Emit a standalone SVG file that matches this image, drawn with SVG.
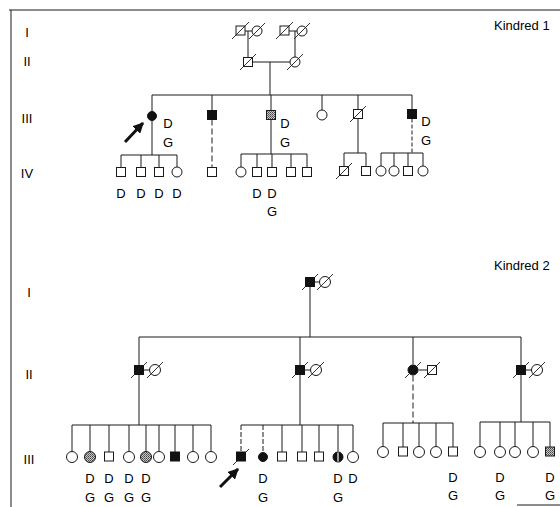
<svg xmlns="http://www.w3.org/2000/svg" width="560" height="507" viewBox="0 0 560 507">
<style>
.ln{stroke:#1a1a1a;stroke-width:1;fill:none}
.o{fill:#fff;stroke:#1a1a1a;stroke-width:1}
.f{fill:#111;stroke:#111;stroke-width:1}
.s{fill:url(#stip);stroke:#1a1a1a;stroke-width:1}
.d{stroke:#1a1a1a;stroke-width:0.9}
.t{font-family:"Liberation Sans",Arial,sans-serif;font-size:13px;fill:#000}
.g{font-family:"Liberation Sans",Arial,sans-serif;font-size:13px;fill:#000;text-anchor:middle}
</style>
<defs>
<pattern id="stip" width="2" height="2" patternUnits="userSpaceOnUse">
<rect width="2" height="2" fill="#c8c8c8"/>
<rect width="1" height="1" fill="#444"/>
<rect x="1" y="1" width="1" height="1" fill="#666"/>
</pattern>
<marker id="ah" viewBox="0 0 10 10" refX="9" refY="5" markerWidth="3.6" markerHeight="3.6" orient="auto" markerUnits="strokeWidth">
<path d="M0,0 L10,5 L0,10 Z" fill="#111"/>
</marker>
</defs>

<g id="frame">
<line class="ln" x1="9" y1="10" x2="560" y2="10" stroke-width="1.3"/>
<line class="ln" x1="11" y1="10" x2="11" y2="507" stroke-width="1.3"/>
<line class="ln" x1="517" y1="505" x2="560" y2="505"/>
</g>

<g id="labels">
<text class="g" x="27" y="37">I</text>
<text class="g" x="27" y="66">II</text>
<text class="g" x="27" y="123">III</text>
<text class="g" x="27" y="178">IV</text>
<text class="t" x="494" y="30">Kindred 1</text>
<text class="g" x="29" y="297">I</text>
<text class="g" x="29" y="379">II</text>
<text class="g" x="29" y="464">III</text>
<text class="t" x="494" y="270">Kindred 2</text>
</g>

<g id="connectors">
<!-- Kindred 1 -->
<line class="ln" x1="245" y1="31" x2="252" y2="31"/>
<line class="ln" x1="248" y1="31" x2="248" y2="57.5"/>
<line class="ln" x1="289" y1="31" x2="297" y2="31"/>
<line class="ln" x1="295" y1="31" x2="295" y2="57"/>
<line class="ln" x1="252.5" y1="62" x2="290" y2="62"/>
<line class="ln" x1="270" y1="62" x2="270" y2="95"/>
<line class="ln" x1="152" y1="95" x2="412" y2="95"/>
<line class="ln" x1="152" y1="95" x2="152" y2="111.5"/>
<line class="ln" x1="212" y1="95" x2="212" y2="110.5"/>
<line class="ln" x1="271" y1="95" x2="271" y2="110.5"/>
<line class="ln" x1="322" y1="95" x2="322" y2="110"/>
<line class="ln" x1="358" y1="95" x2="358" y2="109.5"/>
<line class="ln" x1="412" y1="95" x2="412" y2="109.5"/>
<line class="ln" x1="152" y1="120.5" x2="152" y2="155"/>
<line class="ln" x1="121" y1="155" x2="177" y2="155"/>
<line class="ln" x1="121" y1="155" x2="121" y2="167.5"/>
<line class="ln" x1="141" y1="155" x2="141" y2="167.5"/>
<line class="ln" x1="159" y1="155" x2="159" y2="167.5"/>
<line class="ln" x1="177" y1="155" x2="177" y2="167"/>
<line class="ln" x1="212" y1="119.5" x2="212" y2="167.5" stroke-dasharray="6,3" stroke="#666"/>
<line class="ln" x1="271" y1="119.5" x2="271" y2="154"/>
<line class="ln" x1="241" y1="154" x2="307" y2="154"/>
<line class="ln" x1="241" y1="154" x2="241" y2="167"/>
<line class="ln" x1="257" y1="154" x2="257" y2="167.5"/>
<line class="ln" x1="272" y1="154" x2="272" y2="167.5"/>
<line class="ln" x1="291" y1="154" x2="291" y2="167.5"/>
<line class="ln" x1="307" y1="154" x2="307" y2="167.5"/>
<line class="ln" x1="358" y1="118.5" x2="358" y2="153"/>
<line class="ln" x1="344" y1="153" x2="366" y2="153"/>
<line class="ln" x1="344" y1="153" x2="344" y2="166.5"/>
<line class="ln" x1="366" y1="153" x2="366" y2="166.5"/>
<line class="ln" x1="412" y1="118.5" x2="412" y2="153" stroke-dasharray="4,2" stroke="#666"/>
<line class="ln" x1="381" y1="153" x2="423" y2="153"/>
<line class="ln" x1="381" y1="153" x2="381" y2="166"/>
<line class="ln" x1="394" y1="153" x2="394" y2="166"/>
<line class="ln" x1="408" y1="153" x2="408" y2="166.5"/>
<line class="ln" x1="423" y1="153" x2="423" y2="166"/>
<!-- Kindred 2 -->
<line class="ln" x1="315" y1="282" x2="319.5" y2="282"/>
<line class="ln" x1="310" y1="287" x2="310" y2="337"/>
<line class="ln" x1="139" y1="337" x2="521" y2="337"/>
<line class="ln" x1="139" y1="337" x2="139" y2="365"/>
<line class="ln" x1="300" y1="337" x2="300" y2="365"/>
<line class="ln" x1="413" y1="337" x2="413" y2="364.5"/>
<line class="ln" x1="521" y1="337" x2="521" y2="365"/>
<line class="ln" x1="144" y1="370" x2="149.5" y2="370"/>
<line class="ln" x1="305" y1="370" x2="310.5" y2="370"/>
<line class="ln" x1="418.5" y1="370" x2="427" y2="370"/>
<line class="ln" x1="526" y1="370" x2="531.5" y2="370"/>
<line class="ln" x1="139" y1="375" x2="139" y2="425"/>
<line class="ln" x1="72" y1="425" x2="211" y2="425"/>
<line class="ln" x1="72" y1="425" x2="72" y2="451.5"/>
<line class="ln" x1="90" y1="425" x2="90" y2="451.5"/>
<line class="ln" x1="109" y1="425" x2="109" y2="452"/>
<line class="ln" x1="129" y1="425" x2="129" y2="451.5"/>
<line class="ln" x1="146" y1="425" x2="146" y2="451.5"/>
<line class="ln" x1="159" y1="425" x2="159" y2="451.5"/>
<line class="ln" x1="175" y1="425" x2="175" y2="452"/>
<line class="ln" x1="193" y1="425" x2="193" y2="451.5"/>
<line class="ln" x1="211" y1="425" x2="211" y2="451.5"/>
<line class="ln" x1="300" y1="375" x2="300" y2="425"/>
<line class="ln" x1="241" y1="425" x2="353" y2="425"/>
<line class="ln" x1="241" y1="425" x2="241" y2="452" stroke-dasharray="5,2" stroke="#666"/>
<line class="ln" x1="263" y1="425" x2="263" y2="452" stroke-dasharray="5,2" stroke="#666"/>
<line class="ln" x1="282" y1="425" x2="282" y2="452"/>
<line class="ln" x1="302" y1="425" x2="302" y2="452"/>
<line class="ln" x1="319" y1="425" x2="319" y2="452"/>
<line class="ln" x1="338" y1="425" x2="338" y2="451.5"/>
<line class="ln" x1="353" y1="425" x2="353" y2="451.5"/>
<line class="ln" x1="413" y1="375.5" x2="413" y2="423" stroke-dasharray="6,3" stroke="#666"/>
<line class="ln" x1="383" y1="423" x2="453" y2="423"/>
<line class="ln" x1="383" y1="423" x2="383" y2="446.5"/>
<line class="ln" x1="403" y1="423" x2="403" y2="447"/>
<line class="ln" x1="419" y1="423" x2="419" y2="446.5"/>
<line class="ln" x1="436" y1="423" x2="436" y2="446.5"/>
<line class="ln" x1="453" y1="423" x2="453" y2="447"/>
<line class="ln" x1="521" y1="375" x2="521" y2="422"/>
<line class="ln" x1="480" y1="422" x2="550" y2="422"/>
<line class="ln" x1="480" y1="422" x2="480" y2="446.5"/>
<line class="ln" x1="500" y1="422" x2="500" y2="446.5"/>
<line class="ln" x1="515" y1="422" x2="515" y2="446.5"/>
<line class="ln" x1="533" y1="422" x2="533" y2="446.5"/>
<line class="ln" x1="550" y1="422" x2="550" y2="447"/>
</g>

<g id="arrows">
<line x1="125" y1="142" x2="143" y2="123" stroke="#111" stroke-width="3" marker-end="url(#ah)"/>
<line x1="220" y1="487" x2="238" y2="469" stroke="#111" stroke-width="3" marker-end="url(#ah)"/>
</g>

<!-- Kindred 1 nodes -->
<g id="k1-I-1"><rect class="o" x="236" y="26" width="9" height="9"/><line class="d" x1="232" y1="39" x2="249" y2="22"/></g>
<g id="k1-I-2"><circle class="o" cx="257" cy="31" r="5"/><line class="d" x1="249" y1="39" x2="265" y2="23"/></g>
<g id="k1-I-3"><rect class="o" x="280" y="26" width="9" height="9"/><line class="d" x1="276" y1="39" x2="293" y2="22"/></g>
<g id="k1-I-4"><circle class="o" cx="302" cy="31" r="5"/><line class="d" x1="294" y1="39" x2="310" y2="23"/></g>
<g id="k1-II-1"><rect class="o" x="243.5" y="57.5" width="9" height="9"/><line class="d" x1="240" y1="70" x2="256" y2="54"/></g>
<g id="k1-II-2"><circle class="o" cx="295" cy="62" r="5"/><line class="d" x1="287" y1="70" x2="303" y2="54"/></g>
<g id="k1-III-1"><circle class="f" cx="152" cy="116" r="4.5"/><text class="g" x="168" y="128">D</text><text class="g" x="168" y="147">G</text></g>
<g id="k1-III-2"><rect class="f" x="207.5" y="110.5" width="9" height="9"/></g>
<g id="k1-III-3"><rect class="s" x="266.5" y="110.5" width="9" height="9"/><text class="g" x="285" y="128">D</text><text class="g" x="285" y="147">G</text></g>
<g id="k1-III-4"><circle class="o" cx="322" cy="115" r="5"/></g>
<g id="k1-III-5"><rect class="o" x="353.5" y="109.5" width="9" height="9"/><line class="d" x1="350" y1="122" x2="366" y2="106"/></g>
<g id="k1-III-6"><rect class="f" x="407.5" y="109.5" width="9" height="9"/><text class="g" x="426" y="126">D</text><text class="g" x="426" y="145">G</text></g>
<g id="k1-IV-1"><rect class="o" x="116.5" y="167.5" width="9" height="9"/><text class="g" x="121" y="198">D</text></g>
<g id="k1-IV-2"><rect class="o" x="136.5" y="167.5" width="9" height="9"/><text class="g" x="141" y="198">D</text></g>
<g id="k1-IV-3"><rect class="o" x="154.5" y="167.5" width="9" height="9"/><text class="g" x="159" y="198">D</text></g>
<g id="k1-IV-4"><circle class="o" cx="177" cy="172" r="5"/><text class="g" x="177" y="198">D</text></g>
<g id="k1-IV-5"><rect class="o" x="207.5" y="167.5" width="9" height="9" stroke="#777"/></g>
<g id="k1-IV-6"><circle class="o" cx="241" cy="172" r="5"/></g>
<g id="k1-IV-7"><rect class="o" x="252.5" y="167.5" width="9" height="9"/><text class="g" x="257" y="198">D</text></g>
<g id="k1-IV-8"><rect class="o" x="267.5" y="167.5" width="9" height="9"/><text class="g" x="272" y="198">D</text><text class="g" x="272" y="216">G</text></g>
<g id="k1-IV-9"><rect class="o" x="286.5" y="167.5" width="9" height="9"/></g>
<g id="k1-IV-10"><rect class="o" x="302.5" y="167.5" width="9" height="9"/></g>
<g id="k1-IV-11"><rect class="o" x="339.5" y="166.5" width="9" height="9"/><line class="d" x1="336" y1="179" x2="352" y2="163"/></g>
<g id="k1-IV-12"><rect class="o" x="361.5" y="166.5" width="9" height="9"/></g>
<g id="k1-IV-13"><circle class="o" cx="381" cy="171" r="5"/></g>
<g id="k1-IV-14"><circle class="o" cx="394" cy="171" r="5"/></g>
<g id="k1-IV-15"><rect class="o" x="403.5" y="166.5" width="9" height="9"/></g>
<g id="k1-IV-16"><circle class="o" cx="423" cy="171" r="5"/></g>

<!-- Kindred 2 nodes -->
<g id="k2-I-1"><rect class="f" x="305.5" y="277.5" width="9" height="9"/><line class="d" x1="302" y1="290" x2="318" y2="274"/></g>
<g id="k2-I-2"><circle class="o" cx="325" cy="282" r="5.5"/><line class="d" x1="317" y1="290" x2="333" y2="274"/></g>
<g id="k2-II-1"><rect class="f" x="134.5" y="365.5" width="9" height="9"/><line class="d" x1="131" y1="378" x2="147" y2="362"/></g>
<g id="k2-II-2"><circle class="o" cx="155" cy="370" r="5.5"/><line class="d" x1="147" y1="378" x2="163" y2="362"/></g>
<g id="k2-II-3"><rect class="f" x="295.5" y="365.5" width="9" height="9"/><line class="d" x1="292" y1="378" x2="308" y2="362"/></g>
<g id="k2-II-4"><circle class="o" cx="316" cy="370" r="5.5"/><line class="d" x1="308" y1="378" x2="324" y2="362"/></g>
<g id="k2-II-5"><circle class="f" cx="413" cy="370" r="5"/><line class="d" x1="405" y1="378" x2="421" y2="362"/></g>
<g id="k2-II-6"><rect class="o" x="427.5" y="365.5" width="9" height="9"/><line class="d" x1="424" y1="378" x2="440" y2="362"/></g>
<g id="k2-II-7"><rect class="f" x="516.5" y="365.5" width="9" height="9"/><line class="d" x1="513" y1="378" x2="529" y2="362"/></g>
<g id="k2-II-8"><circle class="o" cx="537" cy="370" r="5.5"/><line class="d" x1="529" y1="378" x2="545" y2="362"/></g>

<g id="k2-III-1"><circle class="o" cx="72" cy="457" r="5.5"/></g>
<g id="k2-III-2"><circle class="s" cx="90" cy="457" r="5.5"/><text class="g" x="90" y="483">D</text><text class="g" x="90" y="502">G</text></g>
<g id="k2-III-3"><rect class="o" x="104.5" y="452" width="9" height="9"/><text class="g" x="109" y="483">D</text><text class="g" x="109" y="502">G</text></g>
<g id="k2-III-4"><circle class="o" cx="129" cy="457" r="5.5"/><text class="g" x="129" y="483">D</text><text class="g" x="129" y="502">G</text></g>
<g id="k2-III-5"><circle class="s" cx="146" cy="457" r="5.5"/><text class="g" x="146" y="483">D</text><text class="g" x="146" y="502">G</text></g>
<g id="k2-III-6"><circle class="o" cx="159" cy="457" r="5.5"/></g>
<g id="k2-III-7"><rect class="f" x="170.5" y="452" width="9" height="9"/></g>
<g id="k2-III-8"><circle class="o" cx="193" cy="457" r="5.5"/></g>
<g id="k2-III-9"><circle class="o" cx="211" cy="457" r="5.5"/></g>
<g id="k2-III-10"><rect class="f" x="236.5" y="452" width="9" height="9"/><line class="d" x1="233" y1="465" x2="249" y2="449"/></g>
<g id="k2-III-11"><circle class="f" cx="263" cy="457" r="4.5"/><text class="g" x="263" y="483">D</text><text class="g" x="263" y="502">G</text></g>
<g id="k2-III-12"><rect class="o" x="277.5" y="452" width="9" height="9"/></g>
<g id="k2-III-13"><rect class="o" x="297.5" y="452" width="9" height="9"/></g>
<g id="k2-III-14"><rect class="o" x="314.5" y="452" width="9" height="9"/></g>
<g id="k2-III-15"><circle class="f" cx="338" cy="457" r="5"/><line x1="338" y1="452.5" x2="338" y2="461.5" stroke="#fff" stroke-width="1.2"/><text class="g" x="338" y="483">D</text><text class="g" x="338" y="502">G</text></g>
<g id="k2-III-16"><circle class="o" cx="353" cy="457" r="5.5"/><text class="g" x="353" y="483">D</text></g>
<g id="k2-III-17"><circle class="o" cx="383" cy="452" r="5.5"/></g>
<g id="k2-III-18"><rect class="o" x="398.5" y="447" width="9" height="9"/></g>
<g id="k2-III-19"><circle class="o" cx="419" cy="452" r="5.5"/></g>
<g id="k2-III-20"><circle class="o" cx="436" cy="452" r="5.5"/></g>
<g id="k2-III-21"><rect class="o" x="448.5" y="447" width="9" height="9"/><text class="g" x="453" y="481.5">D</text><text class="g" x="453" y="499.5">G</text></g>
<g id="k2-III-22"><circle class="o" cx="480" cy="452" r="5.5"/></g>
<g id="k2-III-23"><circle class="o" cx="500" cy="452" r="5.5"/><text class="g" x="500" y="481.5">D</text><text class="g" x="500" y="499.5">G</text></g>
<g id="k2-III-24"><circle class="o" cx="515" cy="452" r="5.5"/></g>
<g id="k2-III-25"><circle class="o" cx="533" cy="452" r="5.5"/></g>
<g id="k2-III-26"><rect class="s" x="545.5" y="447" width="9" height="9"/><text class="g" x="550" y="481.5">D</text><text class="g" x="550" y="499.5">G</text></g>
</svg>
